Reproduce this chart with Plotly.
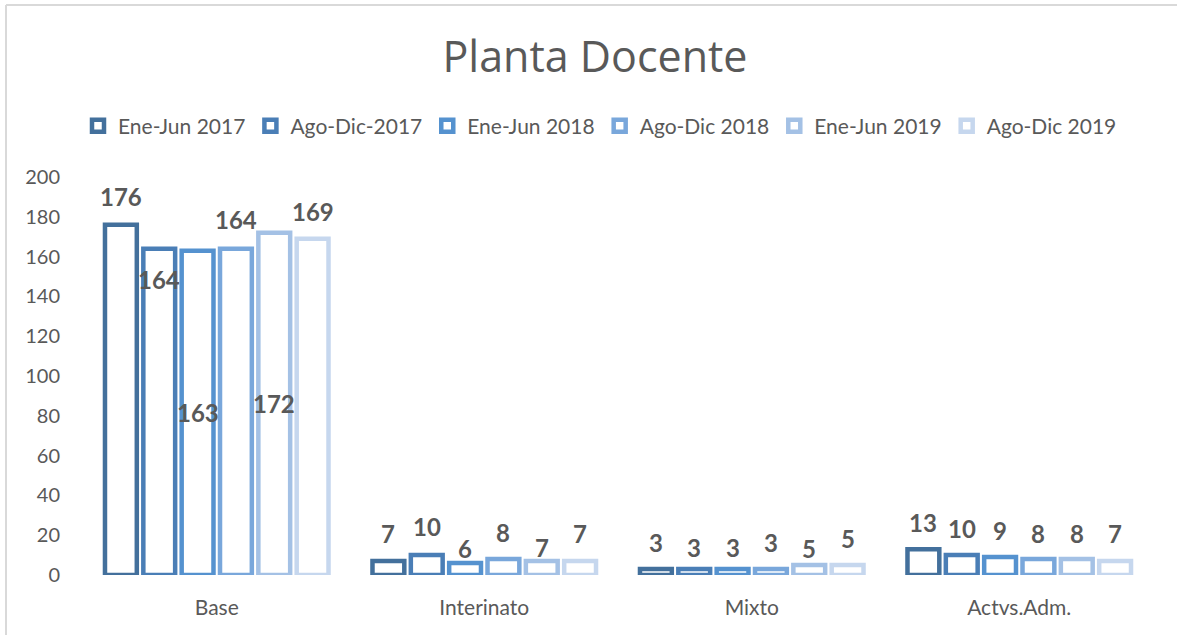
import plotly.graph_objects as go

categories = ["Base", "Interinato", "Mixto", "Actvs.Adm."]
series_names = ["Ene-Jun 2017", "Ago-Dic-2017", "Ene-Jun 2018", "Ago-Dic 2018", "Ene-Jun 2019", "Ago-Dic 2019"]
ene_jun_2017 = [176, 7, 3, 13]
ago_dic_2017 = [164, 10, 3, 10]
ene_jun_2018 = [163, 6, 3, 9]
ago_dic_2018 = [164, 8, 3, 8]
ene_jun_2019 = [172, 7, 5, 8]
ago_dic_2019 = [169, 7, 5, 7]
values = [ene_jun_2017, ago_dic_2017, ene_jun_2018, ago_dic_2018, ene_jun_2019, ago_dic_2019]
y_ticks = [0, 20, 40, 60, 80, 100, 120, 140, 160, 180, 200]

# ---- style ----
colors = ["#43709C", "#4A7EB6", "#5592CF", "#79A7DB", "#A4C1E5", "#C6D7EE"]
# data-label placement: "mid" = centred inside the bar; number = pixels above bar top (negative = inside)
label_place = [
    [28, 28, 27, 27],
    [-31, 29, 22, 27],
    ["mid", 15, 22, 27],
    [29, 27, 27, 26],
    ["mid", 14, 17, 26],
    [27, 28, 27, 28],
]
txt_color = "#595959"
font = "Lato, Calibri, 'Open Sans', sans-serif"
bargap = 0.14
bargroupgap = 0.17

fig = go.Figure()
for i, name in enumerate(series_names):
    fig.add_trace(go.Bar(
        name=name, x=categories, y=values[i],
        marker=dict(color="white", line=dict(color=colors[i], width=4.5)),
        hoverinfo="x+y+name",
    ))

# data labels as annotations placed at each bar's grouped position
n = len(series_names)
slot = (1 - bargap) / n
annotations = []
for i in range(n):
    off = -(1 - bargap) / 2 + slot * (i + 0.5)
    for j, v in enumerate(values[i]):
        place = label_place[i][j]
        if place == "mid":
            yv, shift = v / 2, 0
        else:
            yv, shift = v, place
        annotations.append(dict(
            x=j + off, y=yv, xref="x", yref="y", text=str(v), showarrow=False,
            yanchor="middle", xanchor="center", yshift=shift,
            font=dict(size=24, color=txt_color, family=font, weight="bold"),
        ))

x0, x1 = 83, 1153
y0, y1 = 575, 177
W, H = 1177, 635
pw, ph = x1 - x0, y0 - y1

def px_x(p):
    return (p - x0) / pw

def px_y(p):
    return (y0 - p) / ph

fig.update_layout(
    width=W, height=H,
    margin=dict(l=x0, r=W - x1, t=y1, b=H - y0, pad=0, autoexpand=False),
    paper_bgcolor="white", plot_bgcolor="white",
    barmode="group", bargap=bargap, bargroupgap=bargroupgap,
    font=dict(family=font, color=txt_color),
    title=dict(text="Planta Docente", x=595 / W, xanchor="center", y=1 - 57 / H, yanchor="middle",
               font=dict(size=43, color=txt_color, family="'Open Sans', sans-serif")),
    legend=dict(orientation="h", x=600 / W, xref="container", xanchor="center",
                y=1 - 126 / H, yref="container", yanchor="middle",
                font=dict(size=21, color=txt_color, family=font), itemwidth=30),
    xaxis=dict(showline=False, showgrid=False, ticks="", ticklabelstandoff=18,
               tickfont=dict(size=21, color=txt_color, family=font)),
    yaxis=dict(range=[0, 200], tickvals=y_ticks, showgrid=False, zeroline=False, showline=False,
               ticks="", ticklabelstandoff=22,
               tickfont=dict(size=20, color=txt_color, family=font)),
    annotations=annotations,
    shapes=[
        dict(type="line", xref="paper", yref="paper", x0=px_x(6), x1=px_x(1180), y0=px_y(5), y1=px_y(5),
             line=dict(color="#D9D9D9", width=2)),
        dict(type="line", xref="paper", yref="paper", x0=px_x(6), x1=px_x(6), y0=px_y(5), y1=px_y(640),
             line=dict(color="#D9D9D9", width=2)),
    ],
)

fig.write_html("out.html", config={"displayModeBar": False},
               post_script="document.body.style.margin='0';")
